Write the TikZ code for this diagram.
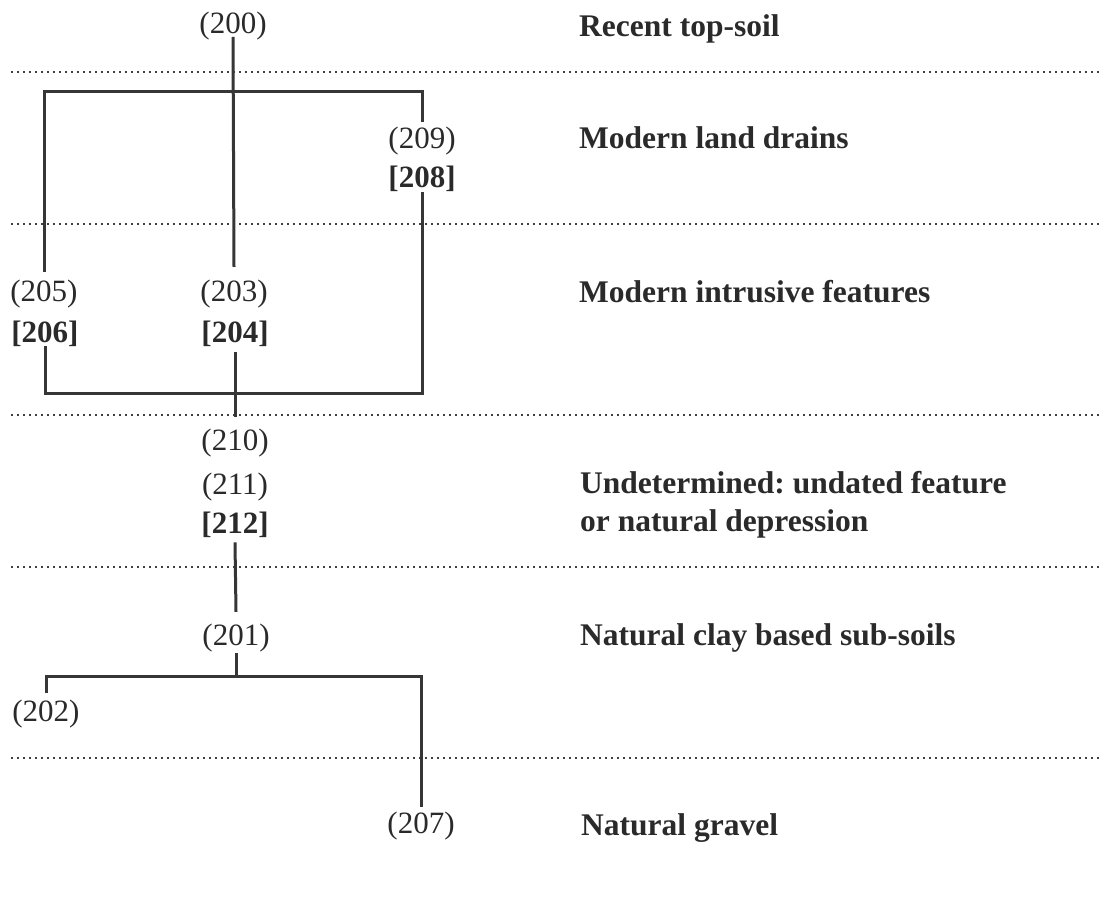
\documentclass[tikz,border=0pt]{standalone}
\usepackage{fontspec}
\setmainfont{Liberation Serif}
\frenchspacing
\definecolor{ink}{HTML}{2A2A2A}
\definecolor{lineink}{HTML}{363636}
\definecolor{dotink}{HTML}{404040}
\begin{document}
\begin{tikzpicture}[x=1pt,y=-1pt,
  num/.style={inner sep=0pt, anchor=base, font=\fontsize{31}{37}\selectfont, text=ink},
  bnum/.style={num, font=\fontsize{31}{37}\selectfont\bfseries},
  lab/.style={inner sep=0pt, anchor=base west, font=\fontsize{31.5}{37}\selectfont\bfseries\frenchspacing, text=ink},
  conn/.style={line width=3pt, draw=lineink},
  sepline/.style={line width=1.6pt, draw=dotink, dash pattern=on 1.6pt off 4.4pt}]
\fill[white] (0,0) rectangle (1103,909);
\useasboundingbox (0,0) rectangle (1103,909);

% separators
\foreach \yy in {72,224,415,567,758}
  \draw[sepline] (11,\yy) -- (1103,\yy);

% unit nodes
\node[num]  (n200) at (233,33.5) {(200)};
\node[num]  (n209) at (422,148.5) {(209)};
\node[bnum] (n208) at (422,188) {[208]};
\node[num]  (n205) at (44,301.5) {(205)};
\node[bnum] (n206) at (45,342) {[206]};
\node[num]  (n203) at (234,301.5) {(203)};
\node[bnum] (n204) at (235,342) {[204]};
\node[num]  (n210) at (235,450) {(210)};
\node[num]  (n211) at (235,494) {(211)};
\node[bnum] (n212) at (235,533) {[212]};
\node[num]  (n201) at (236,645) {(201)};
\node[num]  (n202) at (46,721) {(202)};
\node[num]  (n207) at (421,833) {(207)};

% phase labels
\node[lab] (l1) at (579,37)  {Recent top-soil};
\node[lab] (l2) at (579,149) {Modern land drains};
\node[lab] (l3) at (579,302) {Modern intrusive features};
\node[lab] (l4) at (580,493) {Undetermined: undated feature};
\node[lab] (l5) at (580,531) {or natural depression};
\node[lab] (l6) at (580,645) {Natural clay based sub-soils};
\node[lab] (l7) at (581,835) {Natural gravel};

% junction coordinates
\coordinate (tl) at (44,92);
\coordinate (tr) at (422,92);
\coordinate (bl) at (45,393);
\coordinate (br) at (422,393);
\coordinate (jb) at (236,676);
\coordinate (bbl) at (46,676);
\coordinate (bbr) at (421,676);

% connectors
\draw[conn] ([yshift=-3.5pt]n200.base) -- ([yshift=13pt]n203.north);
\draw[conn] ([yshift=8pt]n205.north) -- (tl) -- (tr) -- ([yshift=5pt]n209.north);
\draw[conn] (n208.south) -- (br) -- (bl) -- (n206.south);
\draw[conn] ([yshift=-6pt]n204.south) -- ([yshift=11.5pt]n210.north);
\draw[conn] ([yshift=-5pt]n212.south) -- ([yshift=11.5pt]n201.north);
\draw[conn] ([yshift=-1pt]n201.south) -- (jb);
\draw[conn] ([yshift=6.5pt]n202.north) -- (bbl) -- (bbr) -- ([yshift=4.5pt]n207.north);
\end{tikzpicture}
\end{document}
